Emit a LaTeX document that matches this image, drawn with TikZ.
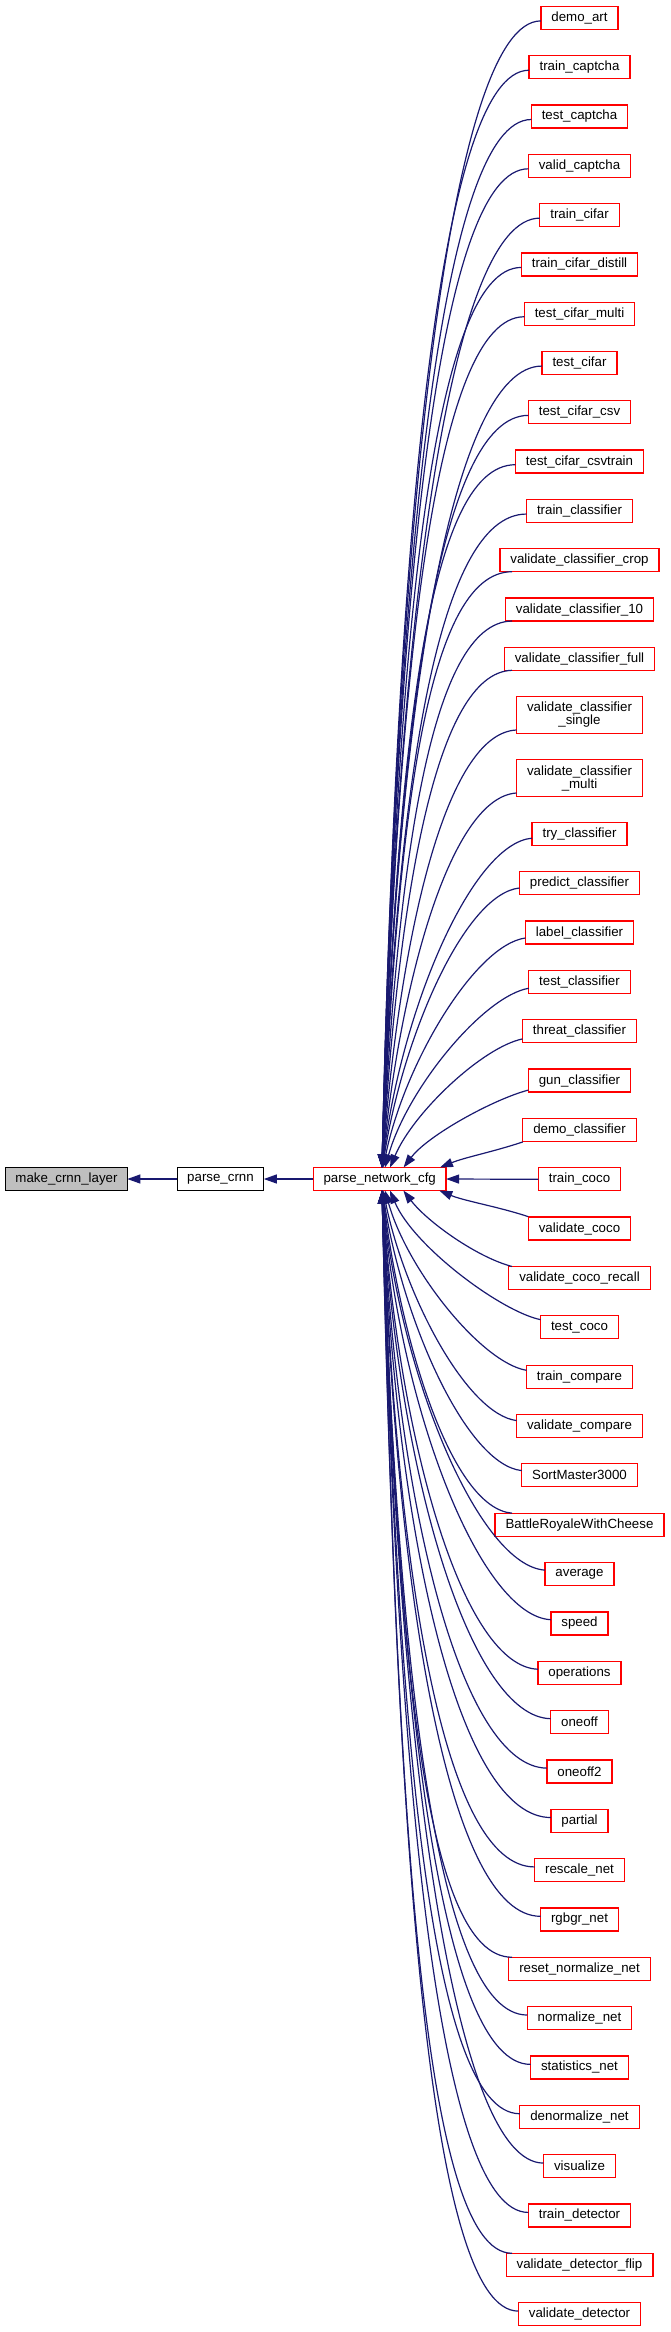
\documentclass[tikz,border=0pt]{standalone}
\usepackage{fontspec}
\setmainfont{Liberation Sans}
\usetikzlibrary{arrows.meta,calc}
\definecolor{edgeblue}{HTML}{191970}
\definecolor{nodegray}{HTML}{BFBFBF}
\begin{document}
\begin{tikzpicture}[x=1pt,y=-1pt,
  fn/.style={draw=red, line width=1.3pt, fill=white, font=\fontsize{13.3}{13}\selectfont,
    inner xsep=10.5pt, inner ysep=0pt, minimum height=23pt, outer sep=0pt, align=center},
  blk/.style={fn, draw=black},
  edge/.style={draw=edgeblue, line width=1.2pt, -{Triangle[length=13pt,width=9pt]}}]
\useasboundingbox (0,0) rectangle (670,2332);

% left chain
\node[blk, fill=nodegray, minimum width=121.6pt, inner xsep=0pt] (mcl) at (66.5,1179) {make\_crnn\_layer};
\node[blk, minimum width=86.6pt, inner xsep=0pt] (pcrnn) at (220.5,1179) {parse\_crnn};
\node[fn, minimum width=132.7pt, inner xsep=0pt] (pnc) at (379.7,1179) {parse\_network\_cfg};

% right column, single-line nodes
\foreach \i/\t in {0/demo\_art, 1/train\_captcha, 2/test\_captcha, 3/valid\_captcha,
  4/train\_cifar, 5/train\_cifar\_distill, 6/test\_cifar\_multi, 7/test\_cifar,
  8/test\_cifar\_csv, 9/test\_cifar\_csvtrain, 10/train\_classifier,
  11/validate\_classifier\_crop, 12/validate\_classifier\_10, 13/validate\_classifier\_full,
  16/try\_classifier, 17/predict\_classifier, 18/label\_classifier, 19/test\_classifier,
  20/threat\_classifier, 21/gun\_classifier, 22/demo\_classifier, 23/train\_coco,
  24/validate\_coco, 25/validate\_coco\_recall, 26/test\_coco, 27/train\_compare,
  28/validate\_compare, 29/SortMaster3000, 30/BattleRoyaleWithCheese, 31/average,
  32/speed, 33/operations, 34/oneoff, 35/oneoff2, 36/partial, 37/rescale\_net,
  38/rgbgr\_net, 39/reset\_normalize\_net, 40/normalize\_net, 41/statistics\_net,
  42/denormalize\_net, 43/visualize, 44/train\_detector, 45/validate\_detector\_flip,
  46/validate\_detector} {
  \pgfmathsetmacro\yy{\i<14 ? 17.9+49.3*\i : 833.9+49.34*(\i-16)}
  \node[fn] (n\i) at (579.5,\yy) {\t};
}
% two-line nodes
\node[fn, minimum height=36.7pt] (n14) at (579.5,715) {validate\_classifier\\\_single};
\node[fn, minimum height=36.7pt] (n15) at (579.5,778) {validate\_classifier\\\_multi};

% straight edges
\draw[edge] (pcrnn.west) -- (mcl.east);
\draw[edge] (pnc.west) -- (pcrnn.east);
\draw[edge] (n23.west) -- (pnc.east);

% curved edges into parse_network_cfg
\foreach \i in {0,...,46} {
 \ifnum\i=23\relax\else
  \pgfmathsetmacro\yy{\i==14 ? 715 : (\i==15 ? 778 : (\i<14 ? 17.9+49.3*\i : 833.9+49.34*(\i-16)))}
  \path (n\i.west); \pgfgetlastxy{\wx}{\wy}
  \pgfmathsetmacro\wxx{\wx}
  \pgfmathsetmacro\d{abs(\yy-1179)}
  \pgfmathsetmacro\sg{\yy<1179 ? 1 : -1}
  \pgfmathsetmacro\hh{(\i==14 || \i==15) ? 18.35 : 11.5}
  \pgfmathsetmacro\s{(\i==14 || \i==15) ? 15 : 3+9*exp(-(\d-49)/150)}
  \pgfmathsetmacro\wide{\wxx<512 ? 1 : 0}
  \pgfmathsetmacro\sx{\wide>0.5 ? 512 : \wxx}
  \pgfmathsetmacro\sy{\wide>0.5 ? \yy+\sg*\hh : \yy+\sg*\s}
  \pgfmathsetmacro\dxs{\sx-\wxx}
  \pgfmathsetmacro\dys{\sy-\yy}
  \pgfmathsetmacro\ex{382+58*exp(-(\d-49)/50)}
  \pgfmathsetmacro\exo{\ex-379.7}
  \pgfmathsetmacro\ey{1179-\sg*11.5}
  \pgfmathsetmacro\u{min(1,(\d-49)/600)}
  \pgfmathsetmacro\px{\sx-30-60*\u}
  \pgfmathsetmacro\py{\sy+\sg*10*(1-\u)}
  \pgfmathsetmacro\qx{\ex+15+10*(1-\u)}
  \pgfmathsetmacro\qy{\sy+(0.6-0.18*\u)*(\ey-\sy)}
  \ifdim\yy pt<1179pt \def\anc{north}\else\def\anc{south}\fi
  \draw[edge] ($(n\i.west)+(\dxs,\dys)$) .. controls (\px,\py) and (\qx,\qy) .. ($(pnc.\anc)+(\exo,0)$);
 \fi
}
\end{tikzpicture}
\end{document}
